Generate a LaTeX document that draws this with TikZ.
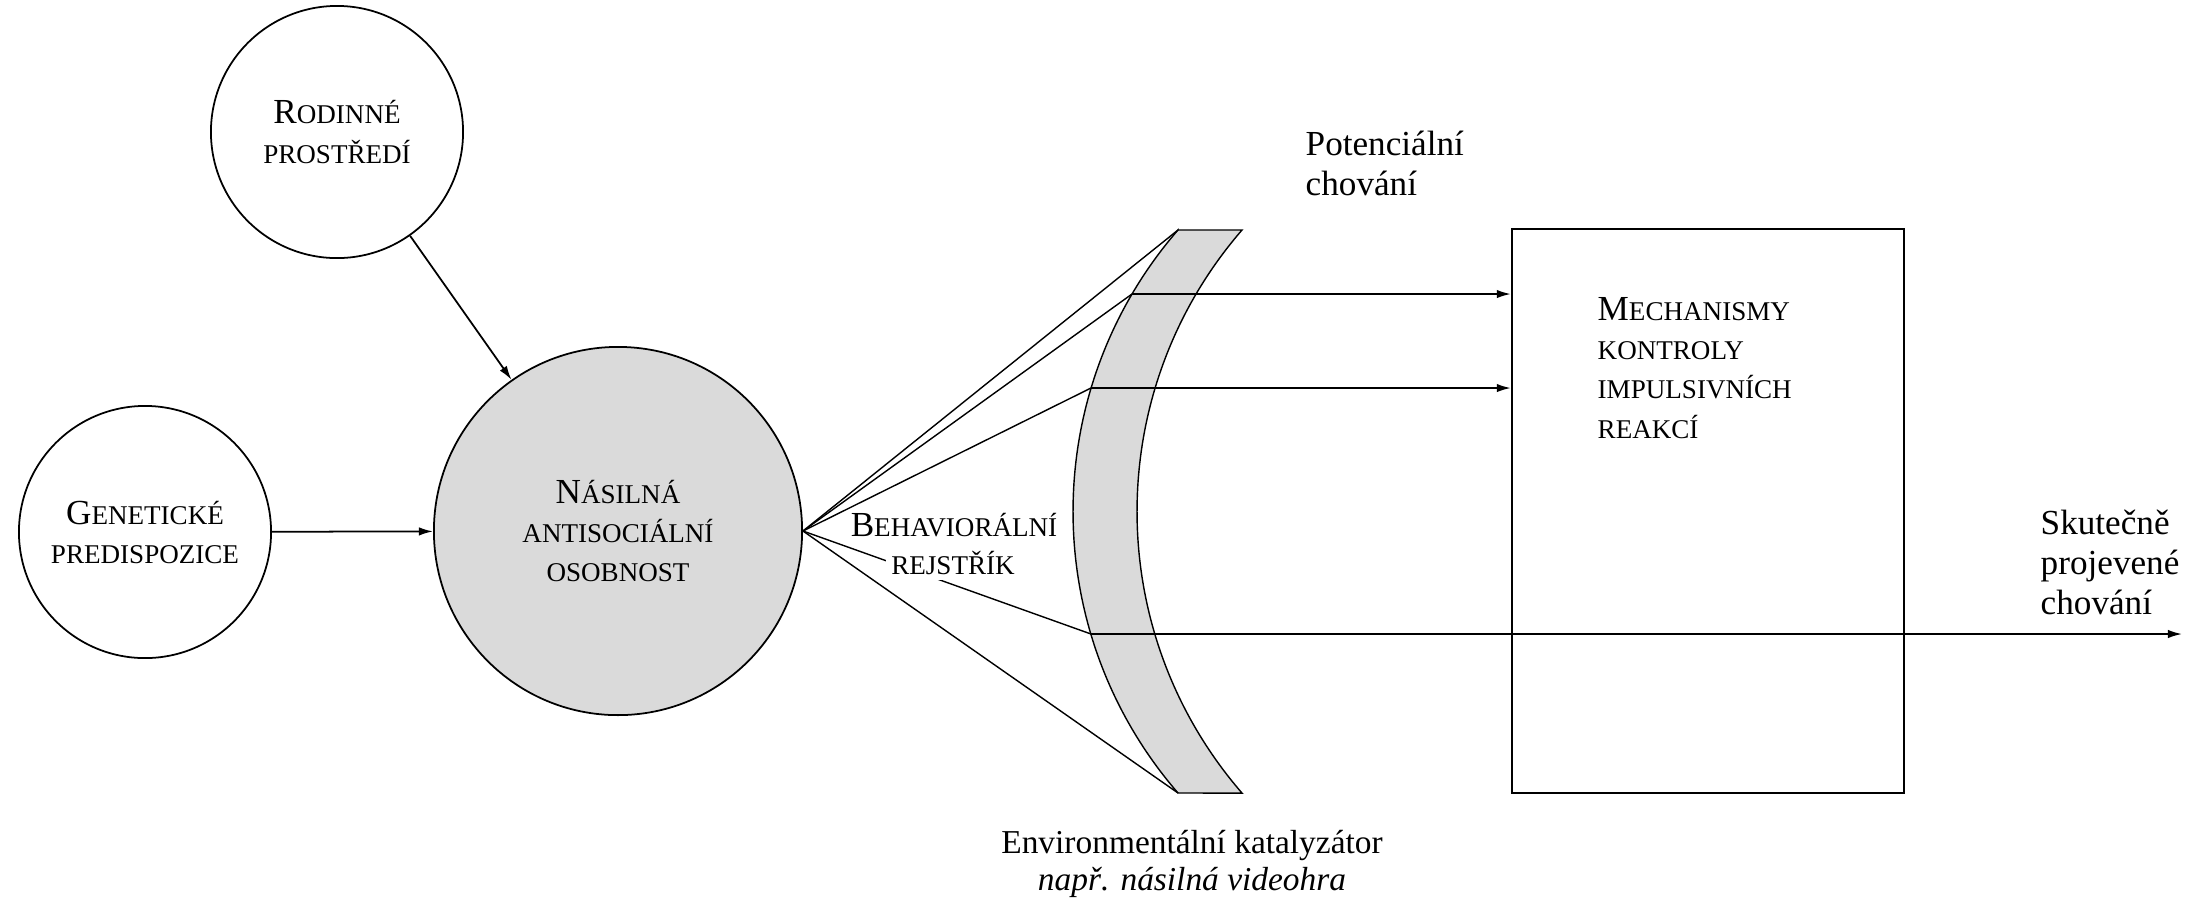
\documentclass[tikz,border=0pt]{standalone}
\usepackage{fontspec}
\setmainfont{Liberation Serif}
\usetikzlibrary{arrows.meta, positioning, calc}
\definecolor{lensgray}{RGB}{218,218,218}
\newcommand{\smc}[1]{{\fontsize{7.7}{11.1}\selectfont\MakeUppercase{#1}}}

\begin{document}
\begin{tikzpicture}[
        x=0.01cm, y=-0.01cm,
        every node/.style={font=\fontsize{10}{11.1}\selectfont},
        factor/.style={circle, draw=black, line width=0.5pt, minimum size=2.52cm, inner sep=0pt, align=center},
        core/.style={factor, fill=lensgray, minimum size=3.68cm},
        ctrl/.style={rectangle, draw=black, line width=0.6pt, minimum width=3.92cm, minimum height=5.64cm, inner sep=0pt},
        lens/.style={fill=lensgray, draw=black, line width=0.4pt},
        arr/.style={-{Latex[length=4pt, width=2.4pt]}, line width=0.5pt},
        fan/.style={line width=0.4pt},
        txt/.style={inner sep=0pt, align=left, font=\fontsize{10}{11.3}\selectfont}
    ]
        \useasboundingbox (0,0) rectangle (2191,902);
        \node[factor] (rodina) at (337,132) {R\smc{odinné}\\\smc{prostředí}};
        \node[factor] (genetika) at (145,532) {G\smc{enetické}\\\smc{predispozice}};
        \node[core] (osobnost) at (618,531) {N\smc{ásilná}\\\smc{antisociální}\\\smc{osobnost}};
        \draw[arr] (rodina) -- (osobnost);
        \draw[arr] (genetika) -- (osobnost);
        \node[ctrl] (mech) at (1708,511) {};
        \node[inner sep=0pt, align=left, anchor=base west] (mechtxt) at (1597,438) {M\smc{echanismy}\\\smc{kontroly}\\\smc{impulsivních}\\\smc{reakcí}};
        \filldraw[lens] (1178,230) -- (1242,230) arc[start angle=220.9, end angle=139.1, radius=430] -- (1178,793) arc[start angle=139.1, end angle=220.9, radius=430] -- cycle;
        \coordinate (tip) at (1178,230);
        \coordinate (foot) at (1178,793);
        \coordinate (k1) at (1132,294);
        \coordinate (k2) at (1091,388);
        \coordinate (k3) at (1091,634);
        \coordinate (out) at (2182,634);
        \foreach \p in {tip, k1, k2, k3, foot}
            \draw[fan] (osobnost.east) -- (\p);
        \draw[arr] (k1) -- (k1 -| mech.west);
        \draw[arr] (k2) -- (k2 -| mech.west);
        \draw[arr] (k3) -- (out);
        \node[inner sep=0pt, anchor=base] (behav) at (954,536) {B\smc{ehaviorální}};
        \node[fill=white, inner sep=1.5pt, anchor=base] (rejstrik) at (953,574) {\smc{rejstřík}};
        \node[txt, anchor=base west] (potencial) at (1305,195) {Potenciální\\chování};
        \node[txt, anchor=base west] (skutecne) at (2040,614) {Skutečně\\projevené\\chování};
        \node[txt, align=center, anchor=base, font=\fontsize{9.5}{10.3}\selectfont] (katalyzator) at (1192,890) {Environmentální katalyzátor\\\textit{např. násilná videohra}};
    \end{tikzpicture}
\end{document}
